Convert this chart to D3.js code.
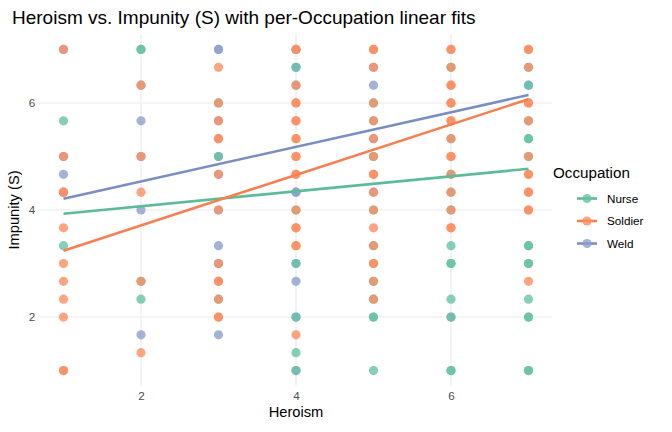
<!DOCTYPE html>
<html><head><meta charset="utf-8">
<script src="https://cdn.jsdelivr.net/npm/d3@7"></script>
<style>body{margin:0;background:#fff}svg{display:block;font-family:"Liberation Sans",Arial,sans-serif}</style>
</head><body>
<svg id="c" width="672" height="432"></svg>
<script>
const categories = ["Nurse","Soldier","Weld"];
const colors = ["#66C2A5","#FC8D62","#8DA0CB"];
const xTicks = [2,4,6];
const yTicks = [2,4,6];
// points: [Heroism, thirds above 1 of Impunity]; Impunity = 1 + k/3
const nursePts = [
 [1,14],[1,7],
 [2,18],[2,18],[2,5],[2,4],
 [3,15],[3,12],[3,4],
 [4,18],[4,17],[4,9],[4,6],[4,3],[4,1],[4,0],
 [5,15],[5,14],[5,12],[5,9],[5,7],[5,5],[5,4],[5,3],[5,3],[5,0],
 [6,17],[6,13],[6,11],[6,10],[6,9],[6,7],[6,6],[6,6],[6,4],[6,3],[6,0],[6,0],
 [7,17],[7,16],[7,14],[7,13],[7,13],[7,12],[7,7],[7,7],[7,6],[7,6],[7,4],[7,3],[7,3],[7,0],[7,0]
];
const soldierPts = [
 [1,18],[1,12],[1,10],[1,10],[1,8],[1,6],[1,5],[1,4],[1,3],[1,0],[1,0],
 [2,16],[2,12],[2,10],[2,5],[2,1],
 [3,17],[3,15],[3,14],[3,13],[3,13],[3,11],[3,9],[3,6],[3,5],[3,5],[3,4],[3,3],[3,3],
 [4,18],[4,18],[4,16],[4,15],[4,15],[4,14],[4,14],[4,13],[4,13],[4,12],[4,12],[4,11],[4,11],[4,9],[4,8],[4,8],[4,7],[4,7],[4,2],
 [5,18],[5,18],[5,17],[5,15],[5,14],[5,13],[5,12],[5,11],[5,11],[5,10],[5,9],[5,8],[5,7],[5,6],[5,6],[5,5],[5,4],
 [6,18],[6,18],[6,17],[6,16],[6,16],[6,15],[6,15],[6,14],[6,14],[6,13],[6,12],[6,12],[6,11],[6,10],[6,9],[6,8],[6,8],
 [7,18],[7,18],[7,17],[7,15],[7,15],[7,14],[7,12],[7,11],[7,11],[7,10],[7,10],[7,9],[7,9],[7,5]
];
const weldPts = [
 [1,18],[1,12],[1,11],[1,10],
 [2,16],[2,14],[2,12],[2,9],[2,2],
 [3,18],[3,18],[3,14],[3,12],[3,11],[3,9],[3,7],[3,6],[3,2],
 [4,17],[4,16],[4,10],[4,10],[4,6],[4,5],[4,3],[4,0],
 [5,17],[5,16],[5,13],[5,10],
 [6,3],
 [7,16]
];
// linear fit endpoints: Impunity at Heroism = 1 and 7
const fitX = [1,7];
const nurseFit = [3.93,4.77];
const soldierFit = [3.24,6.07];
const weldFit = [4.21,6.15];

const svg = d3.select("#c");
const L = 40.25, R = 551.75, T = 33.4, B = 386.6;
const x = d3.scaleLinear().domain([0.7,7.3]).range([L,R]);
const y = d3.scaleLinear().domain([0.7,7.3]).range([B,T]);

const grid = svg.append("g");
grid.selectAll("line.v").data(xTicks).join("line")
  .attr("x1",d=>x(d)).attr("x2",d=>x(d)).attr("y1",T).attr("y2",B)
  .attr("stroke","#EBEBEB").attr("stroke-width",1.07);
grid.selectAll("line.h").data(yTicks).join("line")
  .attr("y1",d=>y(d)).attr("y2",d=>y(d)).attr("x1",L).attr("x2",R)
  .attr("stroke","#EBEBEB").attr("stroke-width",1.07);

const xAxis = svg.append("g").attr("transform",`translate(0,${B})`)
  .call(d3.axisBottom(x).tickValues(xTicks).tickFormat(d3.format("d")).tickSize(0).tickPadding(5));
const yAxis = svg.append("g").attr("transform",`translate(${L},0)`)
  .call(d3.axisLeft(y).tickValues(yTicks).tickFormat(d3.format("d")).tickSize(0).tickPadding(5));
[xAxis,yAxis].forEach(a=>{a.select(".domain").remove();
  a.selectAll("text").attr("fill","#4D4D4D").style("font-size","11.7px").style("font-family","Liberation Sans, Arial, sans-serif");});

const groups = [
  {name:"Weld", pts:weldPts, col:colors[2]},
  {name:"Nurse", pts:nursePts, col:colors[0]},
  {name:"Soldier", pts:soldierPts, col:colors[1]}
];
const pg = svg.append("g");
groups.forEach(g=>{
  pg.append("g").selectAll("circle").data(g.pts).join("circle")
    .attr("cx",d=>x(d[0])).attr("cy",d=>y(1+d[1]/3)).attr("r",4.6)
    .attr("fill",g.col).attr("fill-opacity",0.8);
});

const fits = [
  {vals:nurseFit,col:"#5DBB98"},
  {vals:soldierFit,col:"#F77F50"},
  {vals:weldFit,col:"#7B8EC2"}
];
const line = d3.line().x((d,i)=>x(fitX[i])).y(d=>y(d));
fits.forEach(f=>{
  svg.append("path").datum(f.vals).attr("d",line).attr("fill","none")
    .attr("stroke",f.col).attr("stroke-width",2.6);
});

svg.append("text").attr("x",12).attr("y",24).text("Heroism vs. Impunity (S) with per-Occupation linear fits")
  .attr("font-size","19px").attr("fill","#000");
svg.append("text").attr("x",(L+R)/2).attr("y",417).attr("text-anchor","middle")
  .attr("font-size","14.7px").text("Heroism");
svg.append("text").attr("transform",`translate(19,${(T+B)/2}) rotate(-90)`).attr("text-anchor","middle")
  .attr("font-size","14.7px").text("Impunity (S)");

const lg = svg.append("g");
lg.append("text").attr("x",553).attr("y",178).attr("font-size","15.2px").text("Occupation");
categories.forEach((c,i)=>{
  const cy = 198.5 + i*22.5;
  lg.append("line").attr("x1",577).attr("x2",597).attr("y1",cy).attr("y2",cy)
    .attr("stroke",fits[i].col).attr("stroke-width",2.6);
  lg.append("circle").attr("cx",587).attr("cy",cy).attr("r",4.6).attr("fill",colors[i]).attr("fill-opacity",0.8);
  lg.append("text").attr("x",607).attr("y",cy+4).attr("font-size","11.7px").text(c);
});
</script>
</body></html>
